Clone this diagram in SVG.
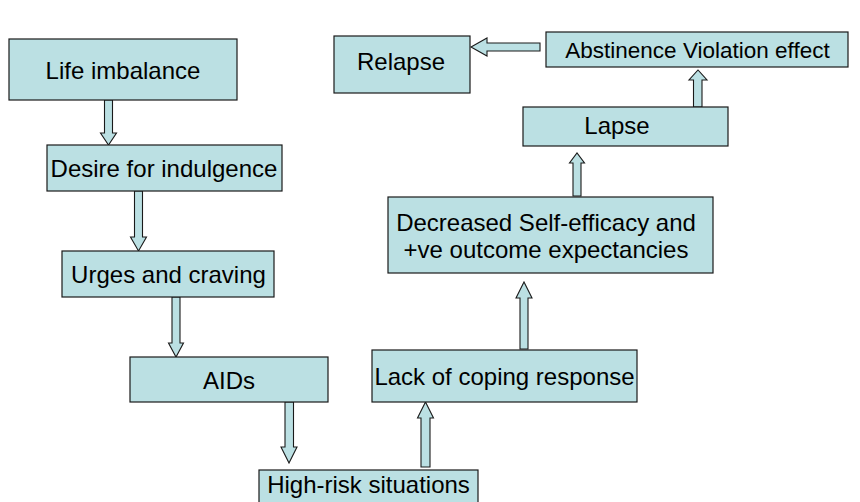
<svg xmlns="http://www.w3.org/2000/svg" width="860" height="502" viewBox="0 0 860 502">
<style>
.box{fill:#BBE0E3;stroke:#1a1a1a;stroke-width:1.2}
.arr{fill:#BBE0E3;stroke:#1a1a1a;stroke-width:1.1;stroke-linejoin:miter}
text{font-family:"Liberation Sans",Arial,sans-serif;font-size:24px;fill:#000;text-anchor:middle}
</style>
<rect width="860" height="502" fill="#fff"/>
<g id="connectors">
<polygon class="arr" points="104.5,100 112.5,100 112.5,133 116.5,133 108.5,145 100.5,133 104.5,133"/>
<polygon class="arr" points="134.5,191 142.5,191 142.5,237 146.5,237 138.5,251 130.5,237 134.5,237"/>
<polygon class="arr" points="172,297 180,297 180,343 183.5,343 176,357 168.5,343 172,343"/>
<polygon class="arr" points="285,402 293.5,402 293.5,447 297,447 289,463 281,447 285,447"/>
<polygon class="arr" points="421,467 430,467 430,418 433.5,418 425.5,402 417.5,418 421,418"/>
<polygon class="arr" points="520,349 528,349 528,298 532,298 524,282 516,298 520,298"/>
<polygon class="arr" points="573,196 581,196 581,163 584.5,163 577,153 569.5,163 573,163"/>
<polygon class="arr" points="693.5,107 702,107 702,80 707,80 698,70 689,80 693.5,80"/>
<polygon class="arr" points="540,43 540,51 487,51 487,56 471,47 487,38 487,43"/>
</g>
<g id="life-imbalance"><rect class="box" x="9" y="39" width="228" height="61"/><text x="123" y="79">Life imbalance</text></g>
<g id="desire"><rect class="box" x="47" y="145" width="235" height="46"/><text x="164" y="177">Desire for indulgence</text></g>
<g id="urges"><rect class="box" x="62" y="251" width="212" height="46"/><text x="168.5" y="283">Urges and craving</text></g>
<g id="aids"><rect class="box" x="130" y="357" width="198" height="45"/><text x="229" y="389">AIDs</text></g>
<g id="high-risk"><rect class="box" x="259" y="470" width="219" height="40"/><text x="368.5" y="493">High-risk situations</text></g>
<g id="lack-coping"><rect class="box" x="372" y="350" width="265" height="52"/><text x="504.5" y="385">Lack of coping response</text></g>
<g id="decreased-self-efficacy"><rect class="box" x="388" y="197" width="325" height="76"/><text x="546" y="231">Decreased Self-efficacy and</text><text x="546" y="258">+ve outcome expectancies</text></g>
<g id="lapse"><rect class="box" x="523" y="107" width="205" height="39"/><text x="617" y="134">Lapse</text></g>
<g id="abstinence-violation"><rect class="box" x="546" y="32" width="302" height="35"/><text x="697.5" y="58" style="font-size:22.5px">Abstinence Violation effect</text></g>
<g id="relapse"><rect class="box" x="334" y="36" width="136" height="57"/><text x="401" y="70">Relapse</text></g>
</svg>
